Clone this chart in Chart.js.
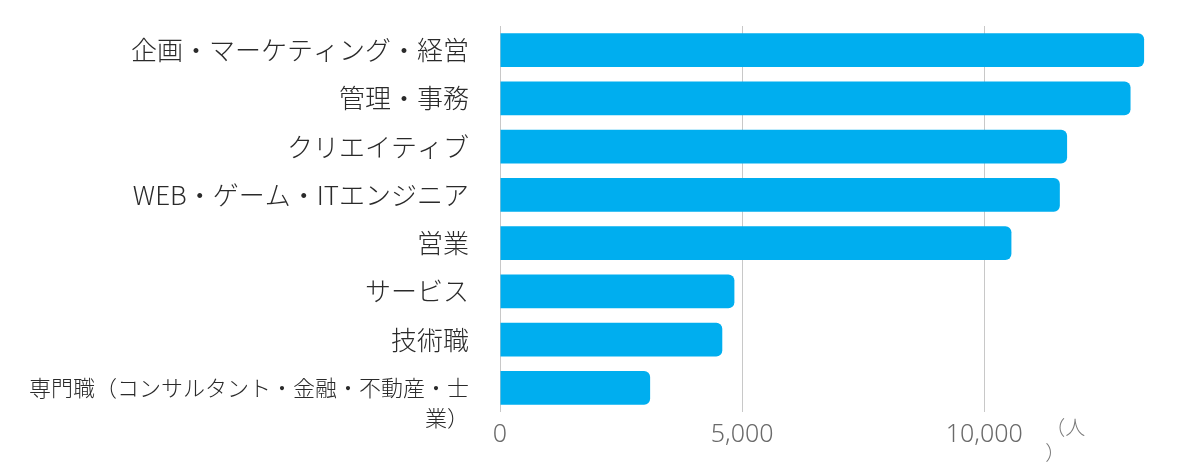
<!DOCTYPE html>
<html lang="ja">
<head>
    <meta charset="UTF-8">
    <title>職種別</title>
    <style>
        html, body { margin: 0; padding: 0; background: #fff; }
        .chart-container { position: relative; width: 1200px; height: 475px; }
    </style>
</head>
<body>
<script src="https://cdn.jsdelivr.net/npm/chart.js@4.4.0/dist/chart.umd.min.js"></script>

<div class="chart-container">
    <canvas id="jobs"></canvas>
</div>
<script>
    // 職種 (top to bottom)
    const categories = [
        '企画・マーケティング・経営',
        '管理・事務',
        'クリエイティブ',
        'WEB・ゲーム・ITエンジニア',
        '営業',
        'サービス',
        '技術職',
        // leading blank line keeps the first line centred on the bar
        ['', '専門職（コンサルタント・金融・不動産・士', '業）']
    ]
    const people = [13300, 13020, 11710, 11560, 10560, 4840, 4590, 3100]
    const xTicks = [0, 5000, 10000]
    const unitLines = ['（人', '）']

    const unitLabel = {
        id: 'unitLabel',
        afterDraw(chart) {
            const ctx = chart.ctx
            const x = chart.scales.x.getPixelForValue(xTicks[xTicks.length - 1]) + 61
            ctx.save()
            ctx.font = '300 20px "Noto Sans CJK JP"'
            ctx.fillStyle = '#7a7a7a'
            ctx.textAlign = 'left'
            ctx.textBaseline = 'middle'
            unitLines.forEach((t, i) => ctx.fillText(t, x, 427 + i * 25))
            ctx.restore()
        }
    }

    const labelFont = c => {
        const long = Array.isArray(categories[c.index])
        return {
            family: '"Noto Sans CJK JP", sans-serif',
            size: long ? 22 : 26,
            weight: 300,
            lineHeight: '30px'
        }
    }

    const ctx = document.getElementById('jobs').getContext('2d');
    new Chart(ctx, {
        type: 'bar',
        data: {
            labels: categories,
            datasets: [{
                data: people,
                backgroundColor: '#00aeef',
                borderRadius: 6,
                borderSkipped: 'start',
                barPercentage: 0.7,
                categoryPercentage: 1
            }]
        },
        plugins: [unitLabel],
        options: {
            indexAxis: 'y',
            responsive: true,
            maintainAspectRatio: false,
            animation: false,
            layout: { padding: { top: 26, right: 22, bottom: 0, left: 0 } },
            plugins: {
                legend: { display: false },
                tooltip: { enabled: false }
            },
            scales: {
                x: {
                    min: 0,
                    max: 14000,
                    afterBuildTicks: axis => {
                        axis.ticks = xTicks.map(v => ({ value: v }))
                    },
                    afterFit: axis => { axis.height = 63 },
                    grid: { color: '#c8c8c8', lineWidth: 1, drawTicks: false },
                    border: { display: false },
                    ticks: {
                        padding: 8,
                        color: '#6a6a6a',
                        font: { family: '"Noto Sans", sans-serif', size: 25, weight: 300 },
                        callback: v => v.toLocaleString('en-US')
                    }
                },
                y: {
                    afterFit: axis => {
                        axis.width = 500
                        axis.paddingTop = 0
                        axis.paddingBottom = 0
                    },
                    grid: { display: false },
                    border: { display: false },
                    ticks: {
                        autoSkip: false,
                        padding: 23,
                        color: '#2a2a2a',
                        font: labelFont
                    }
                }
            }
        }
    });
</script>
</body>
</html>
